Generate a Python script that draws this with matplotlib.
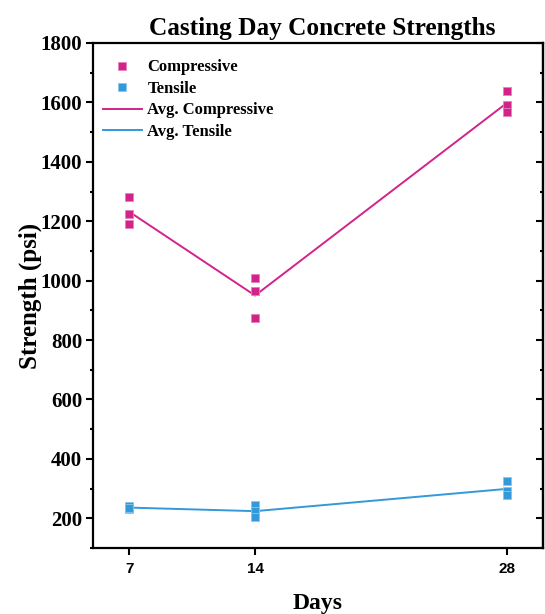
import matplotlib
matplotlib.use("Agg")
import matplotlib.pyplot as plt
from matplotlib.ticker import MultipleLocator

# data
days = [7, 14, 28]
comp_7 = [1281, 1223, 1192]
comp_14 = [1009, 965, 875]
comp_28 = [1637, 1590, 1567]
tens_7 = [241, 232, 236]
tens_14 = [246, 224, 203]
tens_28 = [326, 293, 279]
comp_avg = [1232, 950, 1598]
tens_avg = [236, 224, 299]

pink = "#D2238A"
blue = "#3399D9"
serif = "Liberation Serif"

fig = plt.figure(figsize=(5.45, 6.14), dpi=100)
ax = fig.add_axes([0.171, 0.1075, 0.825, 0.8225])

comp_x = [d for d, vals in zip(days, [comp_7, comp_14, comp_28]) for v in vals]
comp_y = comp_7 + comp_14 + comp_28
tens_x = [d for d, vals in zip(days, [tens_7, tens_14, tens_28]) for v in vals]
tens_y = tens_7 + tens_14 + tens_28

ax.plot(comp_x, comp_y, "s", color=pink, markersize=6, markeredgecolor="#E582BA",
        markeredgewidth=0.6, linestyle="none", label="Compressive", zorder=3)
ax.plot(tens_x, tens_y, "s", color=blue, markersize=6, markeredgecolor="#8CC6EC",
        markeredgewidth=0.6, linestyle="none", label="Tensile", zorder=3)
ax.plot(days, comp_avg, color=pink, linewidth=1.4, label="Avg. Compressive", zorder=2)
ax.plot(days, tens_avg, color=blue, linewidth=1.4, label="Avg. Tensile", zorder=2)

ax.set_xlim(5, 30)
ax.set_ylim(100, 1800)
ax.set_xticks(days)
ax.set_yticks(range(200, 1801, 200))
ax.yaxis.set_minor_locator(MultipleLocator(100))

for s in ax.spines.values():
    s.set_linewidth(1.6)

ax.tick_params(axis="y", which="major", direction="out", length=5, width=1.5, pad=3)
ax.tick_params(axis="y", which="minor", direction="out", length=2.5, width=1.5)
ax.tick_params(axis="x", which="major", direction="out", length=5, width=1.5, pad=5)
for lab in ax.get_yticklabels():
    lab.set_fontfamily(serif)
    lab.set_fontweight("bold")
    lab.set_fontsize(15)
for lab in ax.get_xticklabels():
    lab.set_fontfamily("Liberation Sans")
    lab.set_fontweight("bold")
    lab.set_fontsize(11)

sec = ax.secondary_yaxis("right")
sec.set_yticks(range(200, 1801, 200))
sec.yaxis.set_minor_locator(MultipleLocator(100))
sec.tick_params(which="major", direction="in", length=5, width=1.5, labelright=False)
sec.tick_params(which="minor", direction="in", length=2.5, width=1.5)
sec.spines["right"].set_linewidth(1.6)

ax.set_title("Casting Day Concrete Strengths", fontfamily=serif, fontweight="bold",
             fontsize=18.2, pad=6, x=0.51)
ax.set_xlabel("Days", fontfamily=serif, fontweight="bold", fontsize=17, labelpad=12)
ax.set_ylabel("Strength (psi)", fontfamily=serif, fontweight="bold", fontsize=18, labelpad=-1)

leg = ax.legend(loc="upper left", frameon=False, prop={"family": serif, "weight": "bold", "size": 12},
                handlelength=2.3, handletextpad=0.35, labelspacing=0.33,
                bbox_to_anchor=(-0.011, 0.997))

fig.savefig("out.png", dpi=100)
